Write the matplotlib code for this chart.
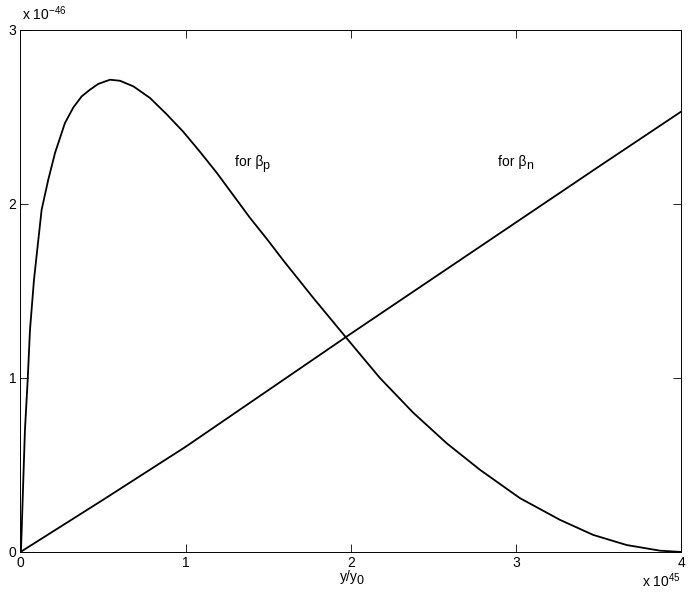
import numpy as np
import matplotlib
matplotlib.use("Agg")
import matplotlib.pyplot as plt

plt.rcParams["font.family"] = ["Liberation Sans", "DejaVu Sans"]
plt.rcParams["font.size"] = 10
plt.rcParams["mathtext.fontset"] = "custom"
plt.rcParams["mathtext.rm"] = "Liberation Sans"
plt.rcParams["mathtext.it"] = "Liberation Sans"

# values, x in units of 1e45, y in units of 1e-46
beta_p_x = [0.0, 0.003, 0.0073, 0.017, 0.027, 0.0436, 0.0575, 0.0817, 0.108, 0.128,
            0.168, 0.209, 0.269, 0.320, 0.370, 0.421, 0.471, 0.542, 0.602, 0.683,
            0.784, 0.885, 0.985, 1.086, 1.187, 1.288, 1.389, 1.490, 1.591, 1.772,
            1.968, 2.175, 2.377, 2.579, 2.781, 3.023, 3.266, 3.466, 3.668, 3.870, 4.0]
beta_p_y = [0.0, 0.0115, 0.127, 0.414, 0.701, 0.989, 1.277, 1.564, 1.794, 1.967,
            2.139, 2.293, 2.465, 2.555, 2.618, 2.657, 2.690, 2.714, 2.708, 2.676,
            2.609, 2.515, 2.415, 2.300, 2.180, 2.050, 1.920, 1.800, 1.675, 1.460,
            1.235, 1.000, 0.800, 0.625, 0.472, 0.309, 0.184, 0.098, 0.040, 0.0075, 0.0]

beta_n_x = [0.0, 0.5, 1.0, 1.5, 2.0, 2.5, 3.0, 3.5, 4.0]
beta_n_y = [0.0, 0.30, 0.605, 0.93, 1.255, 1.575, 1.895, 2.215, 2.532]

xticks = [0, 1, 2, 3, 4]
yticks = [0, 1, 2, 3]

fig = plt.figure(figsize=(6.92, 5.99), dpi=100)
ax = fig.add_axes([0.0296, 0.0785, 0.9552, 0.8715])

ax.plot(beta_p_x, beta_p_y, color="black", lw=1.3)
ax.plot(beta_n_x, beta_n_y, color="black", lw=1.3)

ax.set_xlim(0, 4)
ax.set_ylim(0, 3)
ax.set_xticks(xticks)
ax.set_yticks(yticks)
ax.set_xticklabels([str(t) for t in xticks])
ax.set_yticklabels([str(t) for t in yticks])
ax.tick_params(direction="in", length=6, width=0.6, top=True, right=True,
               labelsize=10, pad=3)
for s in ax.spines.values():
    s.set_linewidth(0.7)


def sub_label(x, y, main, sub, trans):
    t = fig.text(x, y, main, fontsize=10, transform=trans)
    ax.annotate(sub, xy=(1, 0), xycoords=t, xytext=(-0.6, -2.2),
                textcoords="offset points", fontsize=9, va="bottom")
    return t


sub_label(1.298, 2.22, "for \u03b2", "p", ax.transData)
sub_label(2.891, 2.22, "for \u03b2", "n", ax.transData)
sub_label(0.491, 0.03, "y/y", "0", fig.transFigure)

fig.text(0.032, 0.962, r"x 10$^{-46}$", fontsize=10, ha="left", va="bottom")
fig.text(0.984, 0.015, r"x 10$^{45}$", fontsize=10, ha="right", va="bottom")

fig.savefig("out.png", dpi=100)
